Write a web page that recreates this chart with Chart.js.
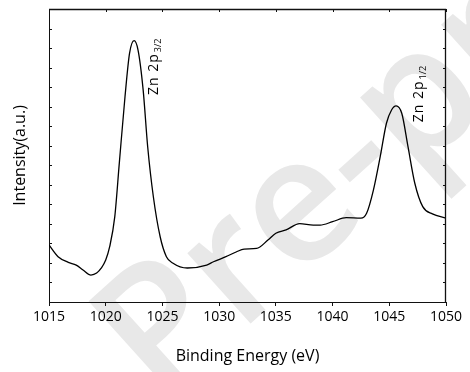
<!DOCTYPE html>
<html>
<head>
<meta charset="utf-8">
<script src="https://cdn.jsdelivr.net/npm/chart.js@4.4.0/dist/chart.umd.min.js"></script>
<style>
  html, body { margin: 0; padding: 0; background: #fff; overflow: hidden; }
  canvas { display: block; }
</style>
</head>
<body>
<canvas id="xps" width="470" height="372"></canvas>
<script>
// binding energy (eV) and intensity (a.u.)
const energy = [1015.0, 1015.8, 1016.7, 1017.4, 1018.0, 1018.7, 1019.2, 1019.6, 1020.0, 1020.35,
  1020.8, 1021.2, 1021.7, 1022.1, 1022.5, 1022.85, 1023.3, 1023.7, 1024.2, 1024.8,
  1025.35, 1025.9, 1027.2, 1028.9, 1029.5, 1030.6, 1031.5, 1032.2, 1033.3, 1034.3,
  1035.0, 1035.9, 1037.1, 1038.3, 1038.9, 1040.0, 1041.2, 1042.5, 1043.0, 1043.6,
  1044.2, 1044.75, 1045.2, 1045.6, 1046.1, 1046.65, 1047.25, 1047.95, 1048.8, 1050.0];
const intensity = [2.92, 2.32, 2.03, 1.89, 1.64, 1.38, 1.48, 1.73, 2.15, 2.83,
  4.37, 7.12, 10.51, 12.73, 13.38, 12.90, 10.86, 7.95, 5.39, 3.34,
  2.32, 2.00, 1.74, 1.89, 2.06, 2.32, 2.56, 2.71, 2.74, 3.17,
  3.52, 3.69, 4.01, 3.94, 3.94, 4.11, 4.32, 4.29, 4.54, 5.73,
  7.44, 9.15, 9.83, 10.04, 9.66, 7.95, 6.08, 4.88, 4.51, 4.29];

const xTicks = [1015, 1020, 1025, 1030, 1035, 1040, 1045, 1050];

// peak labels: main text, subscript, anchor in data units
const peakNames = ['Zn 2p', 'Zn 2p'];
const peakSubs = ['3/2', '1/2'];
const peakAt = [[1024.6, 10.6], [1047.95, 9.2]];

const FONT = '"Open Sans", "DejaVu Sans", sans-serif';

// faint diagonal watermark behind the plot
const watermark = {
  id: 'watermark',
  beforeDraw(chart) {
    const ctx = chart.ctx;
    ctx.save();
    ctx.translate(160, 405);
    ctx.rotate(-42 * Math.PI / 180);
    ctx.font = '600 175px ' + FONT;
    ctx.fillStyle = '#e8e8e8';
    ctx.textBaseline = 'alphabetic';
    ctx.fillText('Pre-proof', 0, 0);
    ctx.restore();
  }
};

// frame on top/right, inward ticks, and the rotated peak labels
const marks = {
  id: 'marks',
  afterDraw(chart) {
    const ctx = chart.ctx;
    const a = chart.chartArea;
    const xs = chart.scales.x, ys = chart.scales.y;
    const L = Math.round(a.left), R = Math.round(a.right);
    const T = Math.round(a.top), B = Math.round(a.bottom);
    ctx.save();
    ctx.strokeStyle = '#111';
    ctx.lineWidth = 1.3;
    ctx.beginPath();
    ctx.moveTo(L, T + 0.5);
    ctx.lineTo(R - 0.5, T + 0.5);
    ctx.lineTo(R - 0.5, B);
    ctx.stroke();

    ctx.lineWidth = 1;
    ctx.beginPath();
    ys.ticks.forEach(t => {
      const y = Math.round(ys.getPixelForValue(t.value)) + 0.5;
      ctx.moveTo(L, y); ctx.lineTo(L + 3, y);
      ctx.moveTo(R, y); ctx.lineTo(R - 3, y);
    });
    xTicks.forEach(v => {
      const x = Math.round(xs.getPixelForValue(v)) + 0.5;
      ctx.moveTo(x, T); ctx.lineTo(x, T + 3);
    });
    ctx.stroke();

    ctx.fillStyle = '#000';
    peakNames.forEach((name, i) => {
      const x = xs.getPixelForValue(peakAt[i][0]);
      const y = ys.getPixelForValue(peakAt[i][1]);
      ctx.save();
      ctx.translate(x, y);
      ctx.rotate(-Math.PI / 2);
      ctx.textBaseline = 'alphabetic';
      ctx.font = '14px ' + FONT;
      ctx.letterSpacing = '1px';
      ctx.fillText(name, 0, 0);
      const w = ctx.measureText(name).width;
      ctx.font = '9px ' + FONT;
      ctx.letterSpacing = '0px';
      ctx.fillText(peakSubs[i], w + 1, 3);
      ctx.restore();
    });
    ctx.restore();
  }
};

new Chart(document.getElementById('xps'), {
  type: 'line',
  data: {
    datasets: [{
      data: energy.map((e, i) => ({ x: e, y: intensity[i] })),
      borderColor: '#000',
      borderWidth: 1.3,
      pointRadius: 0,
      fill: false,
      cubicInterpolationMode: 'monotone'
    }]
  },
  options: {
    responsive: false,
    animation: false,
    layout: { padding: { top: 9, right: 24, left: 0, bottom: 0 } },
    plugins: { legend: { display: false }, tooltip: { enabled: false } },
    scales: {
      x: {
        type: 'linear',
        min: 1015,
        max: 1050,
        afterFit: s => { s.height = 70; },
        afterBuildTicks: s => { s.ticks = xTicks.map(v => ({ value: v })); },
        ticks: {
          color: '#000',
          padding: 3,
          font: { family: FONT, size: 14 },
          callback: v => String(v)
        },
        grid: { drawOnChartArea: false, drawTicks: true, tickLength: 4, color: '#111' },
        border: { display: true, color: '#111', width: 1 },
        title: {
          display: true,
          text: 'Binding Energy (eV)',
          color: '#000',
          font: { family: FONT, size: 16 },
          padding: { top: 0, bottom: 6 }
        }
      },
      y: {
        min: 0,
        max: 15,
        afterFit: s => { s.width = 49; },
        ticks: { display: false, stepSize: 1 },
        grid: { display: false },
        border: { display: true, color: '#111', width: 1 },
        title: {
          display: true,
          text: 'Intensity(a.u.)',
          color: '#000',
          font: { family: FONT, size: 16 },
          padding: { top: 11, bottom: 0 }
        }
      }
    }
  },
  plugins: [watermark, marks]
});
</script>
</body>
</html>
